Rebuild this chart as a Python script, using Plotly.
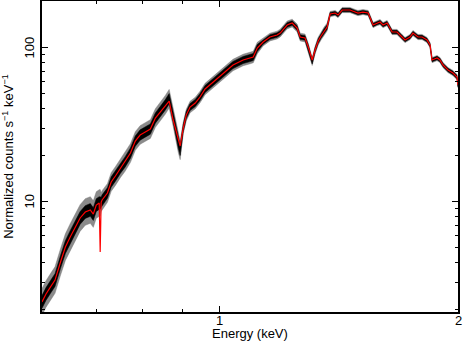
import numpy as np
import plotly.graph_objects as go

# energy grid (keV)
energy = [0.598, 0.605, 0.613, 0.621, 0.631, 0.640, 0.649, 0.659, 0.668, 0.678,
          0.688, 0.694, 0.700, 0.706, 0.708, 0.710, 0.712, 0.723, 0.731, 0.740,
          0.751, 0.761, 0.773, 0.784, 0.795, 0.807, 0.819, 0.831, 0.843, 0.855,
          0.865, 0.875, 0.888, 0.893, 0.901, 0.909, 0.919, 0.933, 0.946, 0.960,
          0.983, 1.012, 1.041, 1.072, 1.094, 1.104, 1.117, 1.136, 1.159, 1.183,
          1.194, 1.218, 1.236, 1.254, 1.265, 1.283, 1.295, 1.310, 1.321, 1.333,
          1.344, 1.356, 1.368, 1.380, 1.400, 1.412, 1.429, 1.462, 1.484, 1.496,
          1.518, 1.541, 1.563, 1.581, 1.595, 1.609, 1.628, 1.652, 1.676, 1.700,
          1.715, 1.740, 1.755, 1.781, 1.802, 1.828, 1.844, 1.855, 1.882, 1.898,
          1.915, 1.943, 1.971, 1.994, 2.000]

# folded model (red)
model = [2.23, 2.51, 2.79, 3.09, 4.05, 5.06, 5.88, 6.83, 7.82, 8.55,
         8.81, 8.29, 9.49, 9.78, 4.70, 9.90, 10.23, 11.36, 13.39, 14.64,
         16.50, 18.05, 20.65, 24.71, 27.03, 28.27, 29.56, 34.85, 38.12, 42.33,
         44.94, 33.82, 25.08, 22.93, 30.01, 36.45, 41.08, 43.61, 47.71, 53.77,
         59.70, 68.31, 76.97, 82.96, 85.47, 86.77, 99.26, 108.6, 117.0, 120.5,
         124.2, 140.0, 144.2, 133.9, 117.0, 115.3, 100.7, 82.96, 96.3, 110.2,
         118.8, 128.0, 135.9, 165.0, 167.5, 162.6, 175.2, 175.2, 170.0, 167.5,
         170.0, 167.5, 140.0, 144.2, 146.4, 140.0, 144.2, 126.1, 126.1, 117.0,
         111.9, 117.0, 124.2, 117.0, 117.0, 111.9, 103.8, 82.96, 85.47, 82.96,
         76.97, 71.44, 68.31, 64.34, 57.08]

# measured counts (black)
counts = [2.23, 2.51, 2.79, 3.09, 4.05, 5.06, 5.88, 6.83, 7.82, 8.55,
          8.81, 8.29, 9.49, 9.78, 9.80, 9.90, 10.23, 11.36, 13.39, 14.64,
          16.50, 18.05, 20.65, 24.71, 27.03, 28.27, 29.56, 34.85, 38.12, 42.33,
          46.50, 35.50, 24.00, 21.50, 30.01, 36.45, 41.08, 43.61, 47.71, 53.77,
          59.70, 68.31, 76.97, 82.96, 85.47, 86.77, 99.26, 108.6, 117.0, 120.5,
          124.2, 140.0, 144.2, 133.9, 117.0, 115.3, 100.7, 81.00, 96.3, 110.2,
          118.8, 128.0, 135.9, 165.0, 167.5, 162.6, 175.2, 175.2, 170.0, 167.5,
          170.0, 167.5, 140.0, 144.2, 146.4, 140.0, 144.2, 126.1, 126.1, 117.0,
          111.9, 117.0, 124.2, 117.0, 117.0, 111.9, 103.8, 82.96, 85.47, 82.96,
          76.97, 71.44, 68.31, 64.34, 57.08]

# fractional scatter of the data per energy band (black core / grey error bars)
band_edges = [0.59, 0.71, 0.90, 1.12, 1.37, 2.01]
scatter_in = [0.10, 0.08, 0.055, 0.035, 0.025]
scatter_out = [0.22, 0.15, 0.09, 0.06, 0.04]

x_ticks = [1, 2]
x_minor = [0.7, 0.8, 0.9]
y_ticks = [10, 100]
y_minor = [2, 3, 4, 5, 6, 7, 8, 9, 20, 30, 40, 50, 60, 70, 80, 90, 200]

FONT = "Liberation Sans, Arial, Helvetica, sans-serif"

E = np.array(energy)
C = np.array(counts)
k = np.clip(np.searchsorted(band_edges, E, side="right") - 1, 0, len(scatter_in) - 1)
s_in = np.array(scatter_in)[k]
s_out = np.array(scatter_out)[k]


def band(frac, color):
    hi = C * (1 + frac)
    lo = C / (1 + frac)
    return go.Scatter(
        x=np.concatenate([E, E[::-1]]),
        y=np.concatenate([hi, lo[::-1]]),
        fill="toself", fillcolor=color,
        line=dict(color=color, width=0.5),
        mode="lines", hoverinfo="skip", showlegend=False,
    )


fig = go.Figure()
fig.add_trace(band(s_out, "rgba(110,110,110,0.8)"))
fig.add_trace(band(s_in, "black"))
fig.add_trace(go.Scatter(
    x=energy, y=model, mode="lines",
    line=dict(color="#ff0000", width=1.2),
    showlegend=False,
))

axis_common = dict(
    type="log", showgrid=False, zeroline=False, automargin=False,
    showline=True, linecolor="black", linewidth=1.5, mirror="allticks",
    ticks="inside", ticklen=6, tickwidth=1, tickcolor="black",
    showticklabels=False, tickmode="array",
)

fig.update_layout(
    width=463, height=346,
    margin=dict(l=42, r=5, t=1, b=34),
    paper_bgcolor="white", plot_bgcolor="white",
    font=dict(family=FONT, color="black"),
    showlegend=False,
    xaxis=dict(
        **axis_common,
        range=[np.log10(0.598), np.log10(2.0)],
        tickvals=x_ticks,
        minor=dict(tickmode="array", tickvals=x_minor,
                   ticks="inside", ticklen=3, tickcolor="black", showgrid=False),
    ),
    yaxis=dict(
        **axis_common,
        range=[np.log10(1.917), np.log10(200.5)],
        tickvals=y_ticks,
        minor=dict(tickmode="array", tickvals=y_minor,
                   ticks="inside", ticklen=3, tickcolor="black", showgrid=False),
    ),
)

# tick labels and titles as annotations (y labels are rotated, PGPLOT style)
lab = dict(family=FONT, size=13, color="black")
for v in x_ticks:
    fig.add_annotation(x=np.log10(v), y=-0.027, xref="x", yref="paper",
                       text=str(v), showarrow=False, font=lab,
                       xanchor="center", yanchor="middle")
for v in y_ticks:
    fig.add_annotation(x=-0.029, y=np.log10(v), xref="paper", yref="y",
                       text=str(v), showarrow=False, font=lab, textangle=-90,
                       xanchor="center", yanchor="middle")
fig.add_annotation(x=0.5, y=-0.068, xref="paper", yref="paper",
                   text="Energy (keV)", showarrow=False, font=lab,
                   xanchor="center", yanchor="middle")
fig.add_annotation(x=-0.082, y=0.502, xref="paper", yref="paper",
                   text="Normalized counts s<sup>−1</sup> keV<sup>−1</sup>",
                   showarrow=False, font=dict(family=FONT, size=13, color="black"),
                   textangle=-90, xanchor="center", yanchor="middle")

# drop the browser's default page margin so the figure sits at (0, 0)
fig.write_html("out.html", config={"displayModeBar": False},
               post_script="document.body.style.margin='0';")
